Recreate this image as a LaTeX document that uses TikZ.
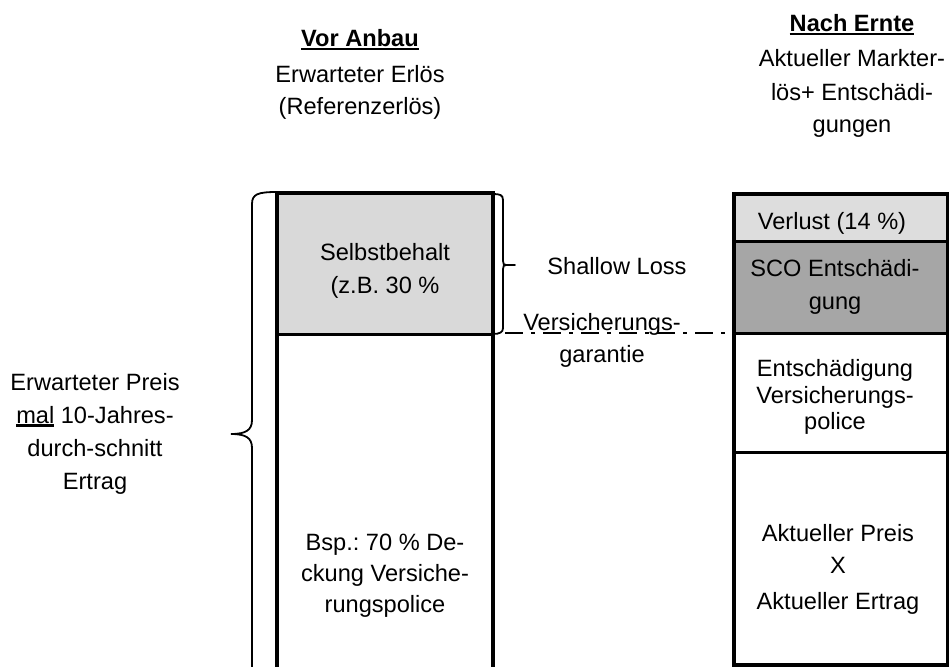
\documentclass[tikz,border=0pt]{standalone}
\usepackage{fontspec}
\setmainfont{Liberation Sans}
\frenchspacing
\definecolor{lgray}{HTML}{D9D9D9}
\definecolor{vgray}{HTML}{DDDDDD}
\definecolor{dgray}{HTML}{A6A6A6}
\newcommand{\myul}[1]{\setbox0\hbox{#1}\rlap{\rule[-3.5pt]{\wd0}{2.5pt}}\box0\relax}
\tikzset{
  txt/.style={anchor=base, inner sep=0pt, font=\fontsize{23.6}{28}\selectfont\frenchspacing},
  thickedge/.style={line width=4pt, line join=miter},
  divider/.style={line width=3pt},
  bracestyle/.style={line width=1.8pt, line cap=round},
  dashdotline/.style={line width=2.5pt, dash pattern=on 18pt off 8pt on 4pt off 8pt}
}
\begin{document}
\begin{tikzpicture}[x=1pt,y=-1pt]
\useasboundingbox (0,0) rectangle (949,666);
\clip (0,0) rectangle (949,666);

% reference line
\coordinate (dl1) at (505,333);
\coordinate (dl2) at (734,333);
\draw[dashdotline] (dl1) -- (dl2);

% left column
\fill[lgray] (277,193) rectangle (493,334);
\draw[divider] (277,334) -- (493,334);
\draw[thickedge] (277,700) -- (277,193) -- (493,193) -- (493,700);

% right column
\fill[vgray] (734,194) rectangle (948,241);
\fill[dgray] (734,241) rectangle (948,333);
\draw[divider] (734,241) -- (948,241);
\draw[divider] (734,333) -- (948,333);
\draw[divider] (734,452) -- (948,452);
\draw[thickedge] (734,194) rectangle (948,665);

% big left brace
\draw[bracestyle] (277,192) .. controls (258,192) and (252,194) .. (252,204) -- (252,420)
  .. controls (252,430) and (246,434) .. (231,434)
  .. controls (246,434) and (252,438) .. (252,448) -- (252,700);

% small right brace
\draw[bracestyle] (493,194) .. controls (500,194) and (503,195) .. (503,200) -- (503,261)
  .. controls (503,264) and (504,265) .. (506,265) -- (515,265)
  (506,265) .. controls (504,265) and (503,266) .. (503,269) -- (503,328)
  .. controls (503,332) and (500,334) .. (493,334);

% headers
\node[txt] (vh1) at (360,47) {\bfseries\myul{Vor Anbau}};
\node[txt] (vh2) at (360,83) {Erwarteter Erlös};
\node[txt] (vh3) at (360,114) {(Referenzerlös)};

\node[txt] (nh1) at (852,32) {\bfseries\myul{Nach Ernte}};
\node[txt] (nh2) at (852,67) {Aktueller Markter-};
\node[txt] (nh3) at (852,100) {lös+ Entschädi-};
\node[txt] (nh4) at (852,132) {gungen};

% left column texts
\node[txt] (sb1) at (385,260) {Selbstbehalt};
\node[txt] (sb2) at (385,293) {(z.B. 30 \%};
\node[txt] (bs1) at (385,550) {Bsp.: 70 \% De-};
\node[txt] (bs2) at (385,581) {ckung Versiche-};
\node[txt] (bs3) at (385,612) {rungspolice};

% middle texts
\node[txt] (sl) at (617,274) {Shallow Loss};
\node[txt] (vg1) at (602,330) {Versicherungs-};
\node[txt] (vg2) at (602,362) {garantie};

% far left texts
\node[txt] (ep1) at (95,390) {Erwarteter Preis};
\node[txt] (ep2) at (95,423) {\myul{mal} 10-Jahres-};
\node[txt] (ep3) at (95,456) {durch-schnitt};
\node[txt] (ep4) at (95,489) {Ertrag};

% right column texts
\node[txt] (vl) at (832,229) {Verlust (14 \%)};
\node[txt] (sc1) at (835,276) {SCO Entschädi-};
\node[txt] (sc2) at (835,309) {gung};
\node[txt] (ev1) at (835,376) {Entschädigung};
\node[txt] (ev2) at (835,403) {Versicherungs-};
\node[txt] (ev3) at (835,429) {police};
\node[txt] (ap1) at (838,541) {Aktueller Preis};
\node[txt] (ap2) at (838,573) {X};
\node[txt] (ap3) at (838,609) {Aktueller Ertrag};
\end{tikzpicture}
\end{document}
